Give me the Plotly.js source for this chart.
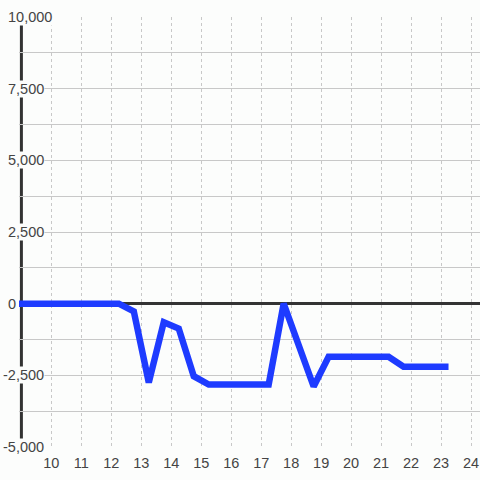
<!DOCTYPE html>
<html>
<head>
<meta charset="utf-8">
<script src="https://cdn.plot.ly/plotly-3.0.1.min.js"></script>
<style>html,body{margin:0;padding:0;background:#fcfdfc;}</style>
</head>
<body>
<div id="chart" style="width:480px;height:480px;"></div>
<script>
// Data
var hours = [8.75, 12.25, 12.75, 13.25, 13.75, 14.25, 14.75, 15.25, 17.25, 17.75, 18.75, 19.25, 21.25, 21.75, 23.25];
var values = [0, 0, -270, -2750, -650, -870, -2530, -2820, -2820, 0, -2890, -1850, -1850, -2200, -2200];
var xTickValues = [10, 11, 12, 13, 14, 15, 16, 17, 18, 19, 20, 21, 22, 23, 24];
var yTickValues = [10000, 7500, 5000, 2500, 0, -2500, -5000];
var yTickLabels = ['10,000', '7,500', '5,000', '2,500', '0', '-2,500', '-5,000'];

var bg = '#fcfdfc';
var marginL = 18.6;

var annotations = yTickValues.map(function (v, i) {
  return {
    xref: 'paper', yref: 'y', x: 0, y: v,
    xanchor: 'left', yanchor: 'middle',
    xshift: 7 - marginL + (v < 0 ? -5 : 0),
    text: yTickLabels[i], showarrow: false,
    bgcolor: bg, borderpad: 0,
    font: {family: 'Liberation Sans, Arial, sans-serif', size: 14.5, color: '#444'}
  };
});

var trace = {
  x: hours, y: values, type: 'scatter', mode: 'lines',
  line: {color: '#1e3bff', width: 6.5},
  hoverinfo: 'none'
};

var layout = {
  width: 480, height: 480,
  margin: {l: marginL, r: 0, t: 16.5, b: 32.5, pad: 0},
  paper_bgcolor: bg, plot_bgcolor: bg,
  showlegend: false,
  xaxis: {
    range: [8.92, 24.3],
    tickmode: 'array', tickvals: xTickValues,
    ticktext: xTickValues.map(String),
    showgrid: true, gridcolor: '#c8c8c8', gridwidth: 1, griddash: 'dot',
    zeroline: false, showline: false, ticks: '',
    ticklabelstandoff: 5,
    tickfont: {family: 'Liberation Sans, Arial, sans-serif', size: 14.5, color: '#444'}
  },
  yaxis: {
    range: [-5000, 10000],
    tick0: 0, dtick: 1250,
    showticklabels: false, ticks: '',
    showgrid: true, gridcolor: '#c8c8c8', gridwidth: 1,
    zeroline: true, zerolinecolor: '#333', zerolinewidth: 3,
    showline: false
  },
  shapes: [{
    type: 'line', layer: 'between',
    xref: 'x', yref: 'paper', x0: 9, x1: 9, y0: 0, y1: 1,
    line: {color: '#333', width: 3}
  }],
  annotations: annotations
};

Plotly.newPlot('chart', [trace], layout, {displayModeBar: false, staticPlot: true});
</script>
</body>
</html>
